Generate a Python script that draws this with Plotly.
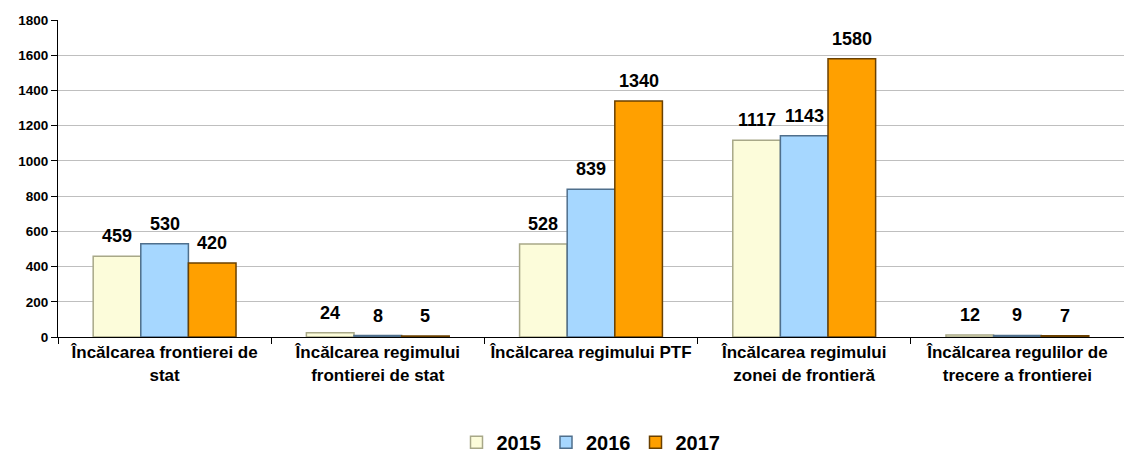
import plotly.graph_objects as go

categorii = [
    "Încălcarea frontierei de<br>stat",
    "Încălcarea regimului<br>frontierei de stat",
    "Încălcarea regimului PTF",
    "Încălcarea regimului<br>zonei de frontieră",
    "Încălcarea regulilor de<br>trecere a frontierei",
]
ani = ["2015", "2016", "2017"]
v2015 = [459, 24, 528, 1117, 12]
v2016 = [530, 8, 839, 1143, 9]
v2017 = [420, 5, 1340, 1580, 7]
serii = [v2015, v2016, v2017]

culori = ["#FCFCDA", "#A6D7FF", "#FFA000"]
contur = ["#A8A888", "#4F6F8C", "#6A4000"]

FONT = "Liberation Sans"
# pagina are margine de 8px in jurul figurii
W, H = 1124, 450
M = dict(l=50, r=8, t=12, b=121)

fig = go.Figure()
for an, vals, c, lc in zip(ani, serii, culori, contur):
    fig.add_trace(go.Bar(
        x=categorii, y=vals, name="<b>" + an + "</b>",
        marker=dict(color=c, line=dict(color=lc, width=1.5)),
    ))

# etichete valori deasupra barelor
latime_bara = (W - M["l"] - M["r"]) / len(categorii) * (1 - 0.33) / len(ani)
for i, vals in enumerate(serii):
    for cat, v in zip(categorii, vals):
        fig.add_annotation(
            x=cat, y=v, text="<b>%d</b>" % v, showarrow=False,
            xshift=(i - 1) * latime_bara, yshift=8, yanchor="bottom",
            font=dict(family=FONT, size=18, color="black"),
        )

fig.update_layout(
    width=W, height=H,
    barmode="group", bargap=0.33, bargroupgap=0,
    plot_bgcolor="white", paper_bgcolor="white",
    margin=M, margin_autoexpand=False,
    font=dict(family=FONT, color="black"),
    legend=dict(
        orientation="h", x=0.5, xanchor="center",
        yref="container", y=0.035, yanchor="middle",
        font=dict(size=20, family=FONT),
        itemwidth=30,
    ),
    xaxis=dict(
        showline=True, linecolor="black", linewidth=1,
        ticks="outside", tickson="boundaries", ticklen=6, tickcolor="black",
        tickfont=dict(size=17, family=FONT),
        tickvals=categorii,
        ticktext=["<b>" + c + "</b>" for c in categorii],
        automargin=False,
    ),
    yaxis=dict(
        range=[0, 1800], dtick=200,
        showline=True, linecolor="black", linewidth=1,
        ticks="outside", ticklen=6, tickcolor="black",
        gridcolor="#BFBFBF", gridwidth=1,
        tickfont=dict(size=13.5, family=FONT),
        tickprefix="<b>", ticksuffix="</b>",
        automargin=False,
    ),
)

fig.write_html("out.html")
